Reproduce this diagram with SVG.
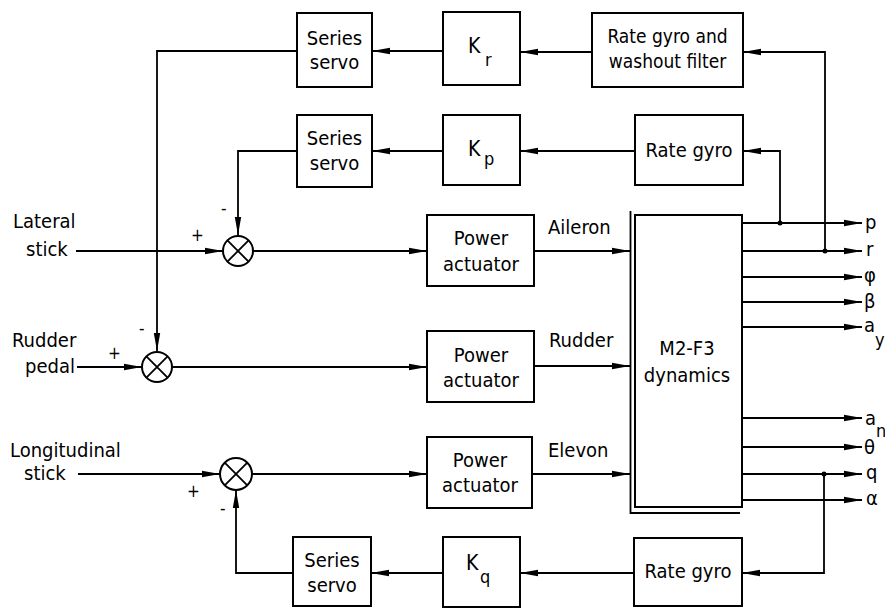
<svg xmlns="http://www.w3.org/2000/svg" width="885" height="609" viewBox="0 0 885 609">
<defs>
<marker id="ah" markerWidth="18" markerHeight="8" refX="18" refY="4" orient="auto" markerUnits="userSpaceOnUse">
<path d="M0,0.8 L18,4 L0,7.2 Z" fill="#000"/>
</marker>
<style>
.box{fill:#fff;stroke:#000;stroke-width:2}
.ln{fill:none;stroke:#000;stroke-width:1.8}
.ar{fill:none;stroke:#000;stroke-width:1.8;marker-end:url(#ah)}
text{font-family:"DejaVu Sans Condensed","DejaVu Sans",sans-serif;font-stretch:condensed;font-size:20px;fill:#000}
.c{text-anchor:middle}
.sm{font-size:19px}
.k{font-size:21px}
.sub{font-size:18px}
.sg{font-size:17px}
.sum{fill:#fff;stroke:#000;stroke-width:2}
</style>
</defs>
<rect width="885" height="609" fill="#fff"/>

<g id="connectors">
<path class="ar" d="M592,52 H520"/>
<path class="ar" d="M443,51 H372"/>
<path class="ar" d="M297,51 H157 V351"/>
<path class="ar" d="M635,151 H520"/>
<path class="ar" d="M443,151 H372"/>
<path class="ar" d="M297,151 H238 V235"/>
<path class="ar" d="M76,251 H223"/>
<path class="ar" d="M253,251 H427"/>
<path class="ar" d="M77,367 H142"/>
<path class="ar" d="M172,367 H427"/>
<path class="ar" d="M78,474 H220"/>
<path class="ar" d="M252,474 H427"/>
<path class="ar" d="M534,251 H630"/>
<path class="ar" d="M534,366 H630"/>
<path class="ar" d="M532,474 H630"/>
<path class="ar" d="M742,223 H862"/>
<path class="ar" d="M742,251 H862"/>
<path class="ar" d="M742,277 H862"/>
<path class="ar" d="M742,302 H862"/>
<path class="ar" d="M742,327 H862"/>
<path class="ar" d="M742,418 H862"/>
<path class="ar" d="M742,447 H862"/>
<path class="ar" d="M742,474 H862"/>
<path class="ar" d="M742,500 H862"/>
<path class="ar" d="M780,223 V151 H743"/>
<path class="ar" d="M825,251 V52 H743"/>
<path class="ar" d="M824,474 V573 H742"/>
<path class="ar" d="M634,573 H520"/>
<path class="ar" d="M443,573 H371"/>
<path class="ar" d="M293,573 H236 V490"/>
<circle cx="780" cy="223" r="2.5"/>
<circle cx="825" cy="251" r="2.5"/>
<circle cx="824" cy="474" r="2.5"/>
</g>

<g id="ss1"><rect class="box" x="297" y="13" width="75" height="74"/><text class="c" x="334.5" y="45">Series</text><text class="c" x="334.5" y="69">servo</text></g>
<g id="kr"><rect class="box" x="443" y="12" width="77" height="73"/><text class="k" x="468" y="53">K</text><text class="sub" x="485" y="66">r</text></g>
<g id="rgw"><rect class="box" x="592" y="13" width="151" height="74"/><text class="c sm" x="667.5" y="43">Rate gyro and</text><text class="c sm" x="667.5" y="68">washout filter</text></g>
<g id="ss2"><rect class="box" x="297" y="115" width="75" height="72"/><text class="c" x="334.5" y="145">Series</text><text class="c" x="334.5" y="170">servo</text></g>
<g id="kp"><rect class="box" x="443" y="115" width="77" height="70"/><text class="k" x="468" y="156">K</text><text class="sub" x="484" y="165">p</text></g>
<g id="rg1"><rect class="box" x="635" y="115" width="108" height="70"/><text class="c" x="689" y="157">Rate gyro</text></g>

<g id="lat"><text x="13" y="228">Lateral</text><text x="26" y="256">stick</text></g>
<g id="rud"><text x="12" y="347">Rudder</text><text x="25" y="373">pedal</text></g>
<g id="lon"><text x="10" y="457">Longitudinal</text><text x="24" y="480">stick</text></g>

<g id="sum1"><circle class="sum" cx="238" cy="251" r="15"/><path class="ln" d="M227.4,240.4 L248.6,261.6 M248.6,240.4 L227.4,261.6"/><text class="sg" x="191" y="241">+</text><text class="sg" x="221" y="214">-</text></g>
<g id="sum2"><circle class="sum" cx="157" cy="367" r="15"/><path class="ln" d="M146.4,356.4 L167.6,377.6 M167.6,356.4 L146.4,377.6"/><text class="sg" x="108" y="359">+</text><text class="sg" x="139" y="334">-</text></g>
<g id="sum3"><circle class="sum" cx="236" cy="474" r="16"/><path class="ln" d="M224.7,462.7 L247.3,485.3 M247.3,462.7 L224.7,485.3"/><text class="sg" x="187" y="497">+</text><text class="sg" x="220" y="514">-</text></g>

<g id="pa1"><rect class="box" x="427" y="215" width="107" height="71"/><text class="c" x="481" y="245">Power</text><text class="c" x="481" y="271">actuator</text></g>
<g id="pa2"><rect class="box" x="427" y="331" width="107" height="71"/><text class="c" x="481" y="362">Power</text><text class="c" x="481" y="387">actuator</text></g>
<g id="pa3"><rect class="box" x="427" y="437" width="105" height="71"/><text class="c" x="480" y="467">Power</text><text class="c" x="480" y="492">actuator</text></g>

<g id="sig"><text x="548" y="234">Aileron</text><text x="549" y="347">Rudder</text><text x="548" y="457">Elevon</text></g>

<g id="dyn"><path class="ln" d="M630.5,211 V513 H740"/><rect class="box" x="635" y="215" width="107" height="292"/><text class="c" x="687" y="355">M2-F3</text><text class="c" x="687" y="382">dynamics</text></g>

<g id="outs">
<text x="865" y="229">p</text>
<text x="866" y="256">r</text>
<text x="864" y="282">φ</text>
<text x="864" y="308">β</text>
<text x="864" y="332">a</text><text class="sub" x="875" y="346">y</text>
<text x="865" y="425">a</text><text class="sub" x="876" y="437">n</text>
<text x="864" y="454">θ</text>
<text x="866" y="479">q</text>
<text x="866" y="505">α</text>
</g>

<g id="ss3"><rect class="box" x="293" y="537" width="78" height="69"/><text class="c" x="332" y="567">Series</text><text class="c" x="332" y="592">servo</text></g>
<g id="kq"><rect class="box" x="443" y="537" width="77" height="70"/><text class="k" x="466" y="570">K</text><text class="sub" x="480" y="583">q</text></g>
<g id="rg3"><rect class="box" x="634" y="538" width="108" height="68"/><text class="c" x="688" y="578">Rate gyro</text></g>
</svg>
